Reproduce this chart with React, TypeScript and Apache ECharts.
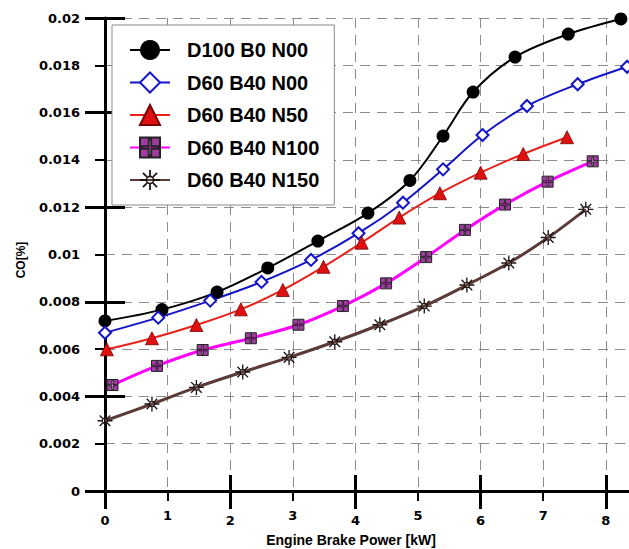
import React, { useEffect, useRef } from 'react';
import * as echarts from 'echarts';

// Blend names, in legend order
const seriesNames = ['D100 B0 N00', 'D60 B40 N00', 'D60 B40 N50', 'D60 B40 N100', 'D60 B40 N150'];

// Engine brake power [kW] and CO [%] for each blend
const powerD100B0N00 = [0, 0.91, 1.79, 2.6, 3.4, 4.2, 4.87, 5.4, 5.88, 6.55, 7.4, 8.24];
const coD100B0N00 = [0.00719, 0.00767, 0.00841, 0.00943, 0.01057, 0.01175, 0.01313, 0.01501, 0.01687, 0.01835, 0.01932, 0.01996];

const powerD60B40N00 = [0, 0.85, 1.68, 2.5, 3.29, 4.05, 4.76, 5.4, 6.03, 6.74, 7.55, 8.34];
const coD60B40N00 = [0.00669, 0.00733, 0.00805, 0.00884, 0.00977, 0.0109, 0.01219, 0.0136, 0.01505, 0.01628, 0.0172, 0.01794];

const powerD60B40N50 = [0.03, 0.75, 1.46, 2.17, 2.84, 3.49, 4.1, 4.7, 5.35, 6.0, 6.68, 7.38];
const coD60B40N50 = [0.00599, 0.00646, 0.00702, 0.00768, 0.0085, 0.00948, 0.0105, 0.01156, 0.01259, 0.01346, 0.01425, 0.01496];

const powerD60B40N100 = [0.12, 0.83, 1.56, 2.33, 3.09, 3.8, 4.49, 5.13, 5.75, 6.39, 7.07, 7.79];
const coD60B40N100 = [0.00448, 0.00529, 0.00596, 0.00646, 0.00703, 0.00782, 0.00878, 0.00989, 0.01104, 0.01211, 0.01308, 0.01394];

const powerD60B40N150 = [0, 0.75, 1.46, 2.2, 2.94, 3.67, 4.39, 5.1, 5.78, 6.45, 7.08, 7.68];
const coD60B40N150 = [0.00297, 0.00368, 0.00438, 0.00503, 0.00565, 0.00631, 0.00703, 0.00782, 0.00871, 0.00964, 0.01072, 0.01191];

// Axis ranges and tick positions
const xMin = 0;
const xMax = 8.37;
const xTickValues = [0, 1, 2, 3, 4, 5, 6, 7, 8];
const xMajorTickValues = [0, 2, 4, 6, 8];
const yMin = 0;
const yMax = 0.02;
const yMinorStep = 0.002;
const yMajorStep = 0.004;

const xTitle = 'Engine Brake Power [kW]';
const yTitle = 'CO[%]';

const pairs = (xs: number[], ys: number[]) => xs.map((x, i) => [x, ys[i]]);

// Square marker split into four cells by a cross
const gridSquareSymbol =
  'path://M0 0L100 0L100 100L0 100Z M44 10L44 44L10 44L10 56L44 56L44 90L56 90L56 56L90 56L90 44L56 44L56 10Z';

// Ring with eight spokes
function sunSymbol(): string {
  const parts = [
    'M72 50A22 22 0 1 1 28 50A22 22 0 1 1 72 50Z',
    'M64 50A14 14 0 1 0 36 50A14 14 0 1 0 64 50Z',
  ];
  const w = 4.5;
  const r1 = 22;
  const r2 = 50;
  for (let k = 0; k < 8; k++) {
    const t = (k * Math.PI) / 4;
    const dx = Math.cos(t);
    const dy = Math.sin(t);
    const nx = -dy;
    const ny = dx;
    const p = [
      [50 + dx * r1 + nx * w, 50 + dy * r1 + ny * w],
      [50 + dx * r2 + nx * w, 50 + dy * r2 + ny * w],
      [50 + dx * r2 - nx * w, 50 + dy * r2 - ny * w],
      [50 + dx * r1 - nx * w, 50 + dy * r1 - ny * w],
    ];
    parts.push(
      'M' + p.map((q) => q[0].toFixed(2) + ' ' + q[1].toFixed(2)).join('L') + 'Z'
    );
  }
  return 'path://' + parts.join(' ');
}

const tickFont = {
  fontFamily: 'DejaVu Sans',
  fontWeight: 'bold' as const,
  fontSize: 13,
  color: '#000',
};

const titleFont = {
  fontFamily: 'Liberation Sans, Arial',
  fontWeight: 'bold' as const,
  color: '#000',
};

const dashed = { show: true, lineStyle: { color: '#8c8c8c', width: 1, type: [10, 7] as number[] } };

export default function App() {
  const ref = useRef<HTMLDivElement>(null);

  useEffect(() => {
    if (!ref.current) return;
    const chart = echarts.init(ref.current, undefined, { renderer: 'svg' });

    const baseX = { type: 'value' as const, min: xMin, max: xMax, position: 'bottom' as const };
    const baseY = { type: 'value' as const, min: yMin, max: yMax, position: 'left' as const };

    chart.setOption({
      animation: false,
      backgroundColor: '#fff',
      grid: { left: 105, right: 0, top: 18, bottom: 58, containLabel: false, outerBoundsMode: 'none' },
      graphic: [
        {
          type: 'text',
          x: 21,
          y: 260,
          rotation: Math.PI / 2,
          style: {
            text: yTitle,
            fill: '#000',
            font: 'bold 12px "Liberation Sans", Arial',
            align: 'center',
            verticalAlign: 'middle',
          },
        },
      ],
      legend: {
        orient: 'vertical',
        left: 112,
        top: 25,
        padding: [12.5, 15, 12.5, 17],
        itemWidth: 40,
        itemHeight: 25,
        itemGap: 7.5,
        backgroundColor: '#fff',
        borderColor: '#8a8a8a',
        borderWidth: 1,
        textStyle: {
          ...titleFont,
          fontSize: 20,
          lineHeight: 25,
          padding: [0, 0, 0, 12],
        },
        data: seriesNames,
      },
      xAxis: [
        {
          ...baseX,
          interval: 1,
          name: xTitle,
          nameLocation: 'middle',
          nameGap: 42,
          nameTextStyle: { ...titleFont, fontSize: 14, padding: [0, 32, 0, 0] },
          axisLine: { show: true, onZero: false, lineStyle: { color: '#000', width: 3 } },
          axisTick: { show: true, length: 10, customValues: xTickValues, lineStyle: { color: '#000', width: 2 } },
          axisLabel: {
            margin: 9,
            customValues: xTickValues,
            // even labels sit lower than odd ones
            formatter: (v: number) => (Math.round(v) % 2 === 0 ? '{even|' + v + '}' : '{odd|' + v + '}'),
            rich: {
              even: { ...tickFont, lineHeight: 40 },
              odd: { ...tickFont, lineHeight: 31 },
            },
          },
          splitLine: dashed,
        },
        {
          ...baseX,
          axisLine: { show: false },
          axisTick: { show: true, length: 18, customValues: xMajorTickValues, lineStyle: { color: '#000', width: 3 } },
          axisLabel: { show: false },
          splitLine: { show: false },
        },
        {
          ...baseX,
          axisLine: { show: false },
          axisTick: { show: true, inside: true, length: 16, customValues: xMajorTickValues, lineStyle: { color: '#000', width: 3 } },
          axisLabel: { show: false },
          splitLine: { show: false },
        },
      ],
      yAxis: [
        {
          ...baseY,
          interval: yMinorStep,
          axisLine: { show: true, onZero: false, lineStyle: { color: '#000', width: 3 } },
          axisTick: { show: true, length: 10, lineStyle: { color: '#000', width: 2 } },
          axisLabel: { ...tickFont, margin: 25 },
          splitLine: dashed,
        },
        {
          ...baseY,
          interval: yMajorStep,
          axisLine: { show: false },
          axisTick: { show: true, length: 20, lineStyle: { color: '#000', width: 3 } },
          axisLabel: { show: false },
          splitLine: { show: false },
        },
        {
          ...baseY,
          interval: yMajorStep,
          axisLine: { show: false },
          axisTick: { show: true, inside: true, length: 20, lineStyle: { color: '#000', width: 3 } },
          axisLabel: { show: false },
          splitLine: { show: false },
        },
      ],
      series: [
        {
          name: seriesNames[0],
          type: 'line',
          smooth: 0.35,
          data: pairs(powerD100B0N00, coD100B0N00),
          symbol: 'circle',
          symbolSize: 13,
          lineStyle: { color: '#000', width: 2 },
          itemStyle: { color: '#000' },
        },
        {
          name: seriesNames[1],
          type: 'line',
          smooth: 0.35,
          data: pairs(powerD60B40N00, coD60B40N00),
          symbol: 'diamond',
          symbolSize: 12,
          lineStyle: { color: '#1414c8', width: 2 },
          itemStyle: { color: '#fff', borderColor: '#1414c8', borderWidth: 2 },
        },
        {
          name: seriesNames[2],
          type: 'line',
          smooth: 0.35,
          data: pairs(powerD60B40N50, coD60B40N50),
          symbol: 'triangle',
          symbolSize: 13,
          lineStyle: { color: '#e8201a', width: 2 },
          itemStyle: { color: '#e01010', borderColor: '#7a0000', borderWidth: 0.8 },
        },
        {
          name: seriesNames[3],
          type: 'line',
          smooth: 0.35,
          data: pairs(powerD60B40N100, coD60B40N100),
          symbol: gridSquareSymbol,
          symbolSize: 11,
          lineStyle: { color: '#ff00ff', width: 3 },
          itemStyle: { color: '#a03ca0', borderColor: '#222', borderWidth: 1 },
        },
        {
          name: seriesNames[4],
          type: 'line',
          smooth: 0.35,
          data: pairs(powerD60B40N150, coD60B40N150),
          symbol: sunSymbol(),
          symbolSize: 15,
          lineStyle: { color: '#5a3b37', width: 3 },
          itemStyle: { color: '#1e1414' },
        },
      ],
    });

    return () => chart.dispose();
  }, []);

  return (
    <div
      ref={ref}
      style={{ position: 'absolute', left: 0, top: 0, width: 629, height: 549 }}
    />
  );
}
